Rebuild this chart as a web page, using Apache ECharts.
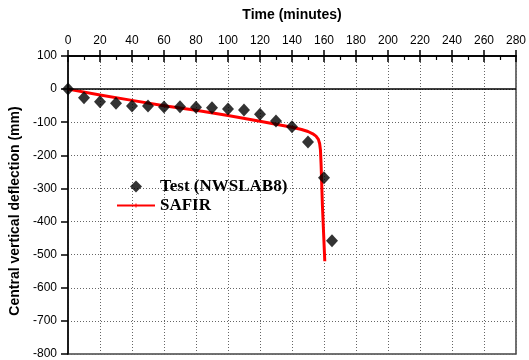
<!DOCTYPE html>
<html>
<head>
<meta charset="utf-8">
<script src="https://cdn.jsdelivr.net/npm/echarts@6/dist/echarts.min.js"></script>
<style>
  html, body { margin: 0; padding: 0; background: #fff; }
  #chart { width: 529px; height: 360px; }
</style>
</head>
<body>
<div id="chart"></div>
<script>
// Measured mid-span deflection of slab NWSLAB8 (time in minutes, deflection in mm)
const testTime = [0, 10, 20, 30, 40, 50, 60, 70, 80, 90, 100, 110, 120, 130, 140, 150, 160, 165];
const testDefl = [0, -26, -38, -43, -51, -51, -54, -53, -55, -56, -60, -63, -76, -96, -114, -160, -268, -458];

// SAFIR numerical prediction
const safirTime = [0, 20, 40, 60, 80, 100, 120, 140, 146, 150, 153, 155, 156.5, 157.3, 157.8, 158.2, 159, 160.5];
const safirDefl = [0, -18, -34, -50, -64, -80, -97, -115, -122, -128, -135, -142, -152, -165, -185, -230, -350, -520];

const xTicks = { min: 0, max: 280, interval: 20 };
const yTicks = { min: -800, max: 100, interval: 100 };

const chart = echarts.init(document.getElementById('chart'));
const sans = 'Arial, "Liberation Sans", sans-serif';
const serif = '"Times New Roman", "Liberation Serif", serif';

// legend glyphs: a diamond and a thin bar with a small centre tick
const diamondIcon = 'path://M6,0L12,6L6,12L0,6Z';
const lineIcon = 'path://M0,5H18.5V4H19.5V5H38V7H19.5V8H18.5V7H0Z';

chart.setOption({
  animation: false,
  backgroundColor: '#ffffff',
  grid: {
    left: 67, right: 10, top: 56, bottom: 3,
    show: true, borderColor: '#444', borderWidth: 1.5, backgroundColor: 'transparent'
  },
  legend: {
    orient: 'vertical',
    left: 112, top: 173,
    itemWidth: 38, itemHeight: 12,
    itemGap: 2,
    symbolKeepAspect: true,
    textStyle: { fontFamily: serif, fontWeight: 'bold', fontSize: 17, color: '#000' },
    data: [
      { name: 'Test (NWSLAB8)', icon: diamondIcon },
      { name: 'SAFIR', icon: lineIcon }
    ]
  },
  xAxis: [
    {
      type: 'value', position: 'top',
      min: xTicks.min, max: xTicks.max, interval: xTicks.interval,
      name: 'Time (minutes)', nameLocation: 'middle', nameGap: 34,
      nameTextStyle: { fontFamily: sans, fontWeight: 'bold', fontSize: 14, color: '#000' },
      axisLine: { onZero: false, lineStyle: { color: '#000', width: 1.5 } },
      axisTick: { show: true, inside: false, length: 6, lineStyle: { color: '#000', width: 1.5 } },
      axisLabel: { fontFamily: sans, fontSize: 12, color: '#000', margin: 9 },
      splitLine: { show: true, lineStyle: { color: '#666', type: [1, 2], width: 1 } }
    },
    {
      type: 'value', position: 'top',
      min: xTicks.min, max: xTicks.max, interval: xTicks.interval,
      axisLine: { onZero: false, lineStyle: { color: '#000', width: 1.5 } },
      axisTick: { show: true, inside: true, length: 6, lineStyle: { color: '#000', width: 1.5 } },
      minorTick: { show: true, splitNumber: 2, length: 4, lineStyle: { color: '#000', width: 1.2 } },
      axisLabel: { show: false },
      splitLine: { show: false }
    }
  ],
  yAxis: {
    type: 'value',
    min: yTicks.min, max: yTicks.max, interval: yTicks.interval,
    name: 'Central vertical deflection (mm)', nameLocation: 'middle', nameGap: 46,
    nameTextStyle: { fontFamily: sans, fontWeight: 'bold', fontSize: 14, color: '#000', padding: [0, 12, 0, 0] },
    axisLine: { onZero: false, lineStyle: { color: '#000', width: 1.5 } },
    axisTick: { show: true, inside: false, length: 7, lineStyle: { color: '#000', width: 1.5 } },
    axisLabel: { fontFamily: sans, fontSize: 12, color: '#000', margin: 11 },
    splitLine: { show: true, lineStyle: { color: '#666', type: [1, 2], width: 1 } }
  },
  series: [
    {
      name: 'SAFIR', type: 'line',
      data: safirTime.map((t, i) => [t, safirDefl[i]]),
      symbol: 'none',
      lineStyle: { color: '#ff0000', width: 3, join: 'round' },
      itemStyle: { color: '#ff0000' },
      z: 3,
      markLine: {
        silent: true, symbol: 'none', label: { show: false },
        lineStyle: { color: '#000', type: 'solid', width: 1.5 },
        data: [{ yAxis: 0 }]
      }
    },
    {
      name: 'Test (NWSLAB8)', type: 'scatter',
      data: testTime.map((t, i) => [t, testDefl[i]]),
      symbol: 'diamond', symbolSize: [12, 13],
      itemStyle: { color: '#000' },
      z: 4
    }
  ]
});
</script>
</body>
</html>
